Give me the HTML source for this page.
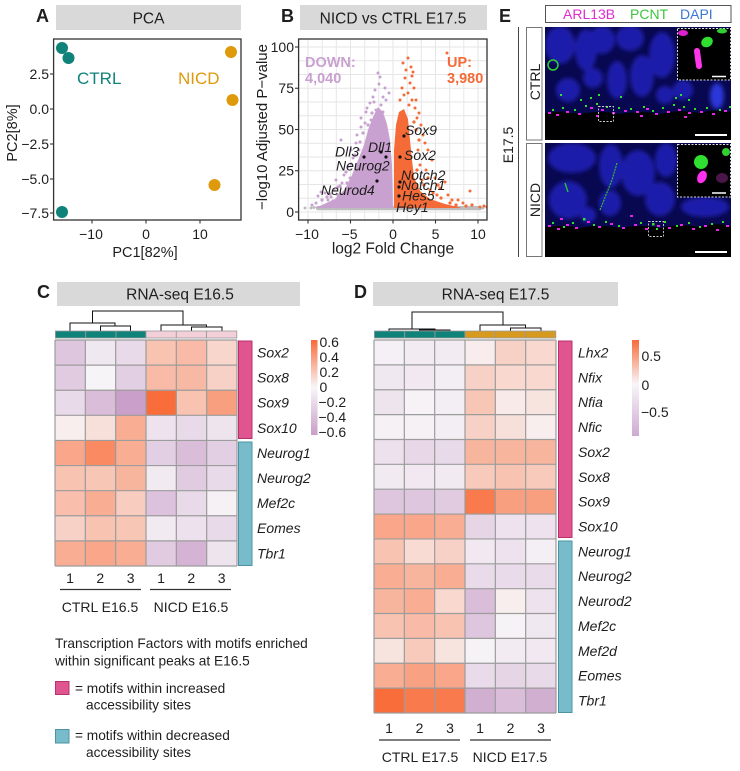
<!DOCTYPE html>
<html><head><meta charset="utf-8"><style>
html,body{margin:0;padding:0;background:#fff;}
svg{display:block;}
text{font-family:"Liberation Sans",Arial,sans-serif;fill:#1e1e1e;}
.o{fill:#f9652f}.p{fill:#c497c4}
.it{font-style:italic;font-size:14px}
.tk{font-size:14px}
.b{font-weight:bold}
</style></head><body>
<svg width="740" height="771" viewBox="0 0 740 771" xmlns="http://www.w3.org/2000/svg">
<defs>
<filter id="bl" x="-20%" y="-20%" width="140%" height="140%"><feGaussianBlur stdDeviation="2.2"/></filter>
<linearGradient id="gC" x1="0" y1="0" x2="0" y2="1"><stop offset="0" stop-color="#f86a38"/><stop offset=".5" stop-color="#f8f6f8"/><stop offset="1" stop-color="#c89ec9"/></linearGradient>
<linearGradient id="gD" x1="0" y1="0" x2="0" y2="1"><stop offset="0" stop-color="#f76b3a"/><stop offset=".46" stop-color="#f8f6f8"/><stop offset="1" stop-color="#cfaad2"/></linearGradient>
<clipPath id="cB"><rect x="299" y="39" width="188" height="181"/></clipPath>
<clipPath id="cE1"><rect x="545" y="27" width="186" height="113"/></clipPath>
<clipPath id="cE2"><rect x="545" y="143" width="186" height="114"/></clipPath>
</defs>
<rect width="740" height="771" fill="#fff"/>

<!-- ============ PANEL A ============ -->
<text x="36" y="22" class="b" font-size="18">A</text>
<rect x="56" y="5" width="185" height="25" fill="#d9d9d9"/>
<text x="148.5" y="23.5" font-size="15.5" text-anchor="middle">PCA</text>
<rect x="53.6" y="39" width="187.4" height="181" fill="none" stroke="#333" stroke-width="1.3"/>
<g stroke="#333" stroke-width="1.1">
<line x1="50" y1="74" x2="53.6" y2="74"/><line x1="50" y1="109" x2="53.6" y2="109"/><line x1="50" y1="144" x2="53.6" y2="144"/><line x1="50" y1="179" x2="53.6" y2="179"/><line x1="50" y1="213" x2="53.6" y2="213"/>
<line x1="92" y1="220" x2="92" y2="223.5"/><line x1="146" y1="220" x2="146" y2="223.5"/><line x1="200" y1="220" x2="200" y2="223.5"/>
</g>
<g class="tk" text-anchor="end">
<text x="49" y="79">2.5</text><text x="49" y="114">0.0</text><text x="49" y="149">−2.5</text><text x="49" y="184">−5.0</text><text x="49" y="218">−7.5</text>
</g>
<g class="tk" text-anchor="middle">
<text x="91" y="239">−10</text><text x="146" y="239">0</text><text x="200" y="239">10</text>
</g>
<text x="145" y="257" font-size="14.5" text-anchor="middle">PC1[82%]</text>
<text x="17" y="133" font-size="14.5" text-anchor="middle" transform="rotate(-90 17 133)">PC2[8%]</text>
<g fill="#0f8279"><circle cx="62" cy="48" r="6"/><circle cx="68.5" cy="58" r="6"/><circle cx="62" cy="212" r="6"/></g>
<g fill="#df9a0c"><circle cx="231" cy="52" r="6"/><circle cx="232.5" cy="100" r="6"/><circle cx="214.5" cy="185" r="6"/></g>
<text x="77" y="84" font-size="17" style="fill:#0f8279">CTRL</text>
<text x="178" y="84" font-size="17" style="fill:#df9a0c">NICD</text>

<!-- ============ PANEL B ============ -->
<text x="281" y="22" class="b" font-size="18">B</text>
<rect x="300" y="5" width="187" height="25" fill="#d9d9d9"/>
<text x="393" y="23.5" font-size="15.5" text-anchor="middle">NICD vs CTRL E17.5</text>
<g clip-path="url(#cB)">
<g stroke="#e6e6e6" stroke-width="1">
<line x1="299" y1="212" x2="487" y2="212"/><line x1="299" y1="198.25" x2="487" y2="198.25"/><line x1="299" y1="184.5" x2="487" y2="184.5"/><line x1="299" y1="170.75" x2="487" y2="170.75"/><line x1="299" y1="157" x2="487" y2="157"/><line x1="299" y1="143.25" x2="487" y2="143.25"/><line x1="299" y1="129.5" x2="487" y2="129.5"/><line x1="299" y1="115.75" x2="487" y2="115.75"/><line x1="299" y1="102" x2="487" y2="102"/><line x1="299" y1="88.25" x2="487" y2="88.25"/><line x1="299" y1="74.5" x2="487" y2="74.5"/><line x1="299" y1="60.75" x2="487" y2="60.75"/><line x1="299" y1="47" x2="487" y2="47"/>
<line x1="308" y1="39" x2="308" y2="220"/><line x1="322.2" y1="39" x2="322.2" y2="220"/><line x1="336.3" y1="39" x2="336.3" y2="220"/><line x1="350.5" y1="39" x2="350.5" y2="220"/><line x1="364.7" y1="39" x2="364.7" y2="220"/><line x1="378.8" y1="39" x2="378.8" y2="220"/><line x1="393" y1="39" x2="393" y2="220"/><line x1="407.2" y1="39" x2="407.2" y2="220"/><line x1="421.3" y1="39" x2="421.3" y2="220"/><line x1="435.5" y1="39" x2="435.5" y2="220"/><line x1="449.7" y1="39" x2="449.7" y2="220"/><line x1="463.8" y1="39" x2="463.8" y2="220"/><line x1="478" y1="39" x2="478" y2="220"/>
</g>
<!-- gray band -->
<rect x="316" y="206" width="166" height="4.2" rx="2" fill="#bdbdbd"/>
<g fill="#bdbdbd"><circle cx="305" cy="208" r="1.5"/><circle cx="311" cy="208" r="1.5"/><circle cx="468" cy="208" r="1.5"/><circle cx="474" cy="207.5" r="1.5"/><circle cx="483" cy="208" r="1.5"/><circle cx="314" cy="207.5" r="1.5"/></g>
<!-- purple cloud -->
<polygon fill="#c9a1d0" points="393,208 392,165 390,140 387,124 383,112 378,107 373,117 368,130 364,145 358,160 352,175 345,189 335,199 322,205 314,208"/>
<g fill="#c9a1d0">
<circle cx="378" cy="73" r="1.5"/><circle cx="380" cy="77" r="1.5"/><circle cx="375" cy="90" r="1.5"/><circle cx="383" cy="97" r="1.5"/><circle cx="373" cy="97" r="1.5"/><circle cx="370" cy="103" r="1.5"/><circle cx="381" cy="105" r="1.5"/><circle cx="376" cy="110" r="1.5"/><circle cx="383" cy="112" r="1.5"/><circle cx="361" cy="118" r="1.5"/><circle cx="365" cy="123" r="1.5"/><circle cx="361" cy="127" r="1.5"/><circle cx="341" cy="140" r="1.5"/><circle cx="356" cy="143" r="1.5"/><circle cx="351" cy="150" r="1.5"/><circle cx="348" cy="167" r="1.5"/><circle cx="345" cy="197" r="1.5"/><circle cx="338" cy="187" r="1.5"/><circle cx="321" cy="192" r="1.5"/><circle cx="325" cy="193" r="1.5"/><circle cx="331" cy="197" r="1.5"/><circle cx="334" cy="190" r="1.5"/><circle cx="342" cy="183" r="1.5"/><circle cx="350" cy="178" r="1.5"/><circle cx="357" cy="135" r="1.5"/><circle cx="366" cy="112" r="1.5"/><circle cx="371" cy="120" r="1.5"/><circle cx="385" cy="88" r="1.5"/><circle cx="379" cy="84" r="1.5"/><circle cx="368" cy="138" r="1.5"/><circle cx="344" cy="175" r="1.5"/><circle cx="328" cy="200" r="1.5"/><circle cx="316" cy="203" r="1.5"/><circle cx="312" cy="205" r="1.5"/><circle cx="386" cy="100" r="1.5"/><circle cx="389" cy="93" r="1.5"/><circle cx="374" cy="102" r="1.5"/><circle cx="353" cy="158" r="1.5"/><circle cx="359" cy="150" r="1.5"/><circle cx="367" cy="108" r="1.5"/><circle cx="318" cy="196" r="1.5"/><circle cx="336" cy="180" r="1.5"/>
<circle cx="330" cy="194" r="1.6"/><circle cx="327" cy="197" r="1.6"/><circle cx="340" cy="186" r="1.6"/><circle cx="346" cy="172" r="1.6"/><circle cx="351" cy="164" r="1.6"/><circle cx="355" cy="155" r="1.6"/><circle cx="360" cy="142" r="1.6"/><circle cx="363" cy="133" r="1.6"/><circle cx="368" cy="125" r="1.6"/><circle cx="372" cy="113" r="1.6"/><circle cx="338" cy="195" r="1.6"/><circle cx="333" cy="201" r="1.6"/><circle cx="322" cy="200" r="1.6"/><circle cx="347" cy="183" r="1.6"/>
</g>
<!-- orange cloud -->
<polygon fill="#f46b37" points="394,208 394,150 396,125 399,112 404,109 408,119 410,140 412,160 414,177 420,191 430,199 445,204 462,208"/>
<g fill="#f46b37">
<circle cx="403" cy="63" r="1.5"/><circle cx="408" cy="58" r="1.5"/><circle cx="411" cy="67" r="1.5"/><circle cx="413" cy="72" r="1.5"/><circle cx="405" cy="78" r="1.5"/><circle cx="410" cy="83" r="1.5"/><circle cx="414" cy="88" r="1.5"/><circle cx="408" cy="93" r="1.5"/><circle cx="402" cy="88" r="1.5"/><circle cx="416" cy="100" r="1.5"/><circle cx="400" cy="100" r="1.5"/><circle cx="419" cy="113" r="1.5"/><circle cx="415" cy="108" r="1.5"/><circle cx="421" cy="125" r="1.5"/><circle cx="425" cy="143" r="1.5"/><circle cx="432" cy="160" r="1.5"/><circle cx="440" cy="188" r="1.5"/><circle cx="448" cy="195" r="1.5"/><circle cx="452" cy="200" r="1.5"/><circle cx="470" cy="191" r="1.5"/><circle cx="480" cy="207" r="1.5"/><circle cx="484" cy="206" r="1.5"/><circle cx="487" cy="207" r="1.5"/><circle cx="418" cy="150" r="1.5"/><circle cx="420" cy="165" r="1.5"/><circle cx="406" cy="70" r="1.5"/><circle cx="412" cy="76" r="1.5"/><circle cx="404" cy="95" r="1.5"/><circle cx="417" cy="118" r="1.5"/><circle cx="423" cy="135" r="1.5"/><circle cx="428" cy="150" r="1.5"/><circle cx="426" cy="170" r="1.5"/><circle cx="435" cy="178" r="1.5"/><circle cx="445" cy="182" r="1.5"/><circle cx="458" cy="200" r="1.5"/><circle cx="463" cy="203" r="1.5"/><circle cx="412" cy="100" r="1.5"/><circle cx="409" cy="105" r="1.5"/><circle cx="399" cy="118" r="1.5"/><circle cx="422" cy="180" r="1.5"/><circle cx="430" cy="190" r="1.5"/><circle cx="437" cy="195" r="1.5"/><circle cx="447" cy="53" r="1.5"/>
<circle cx="424" cy="185" r="1.6"/><circle cx="433" cy="193" r="1.6"/><circle cx="441" cy="198" r="1.6"/><circle cx="450" cy="203" r="1.6"/><circle cx="456" cy="205" r="1.6"/><circle cx="466" cy="206" r="1.6"/><circle cx="472" cy="205" r="1.6"/><circle cx="428" cy="178" r="1.6"/><circle cx="438" cy="185" r="1.6"/><circle cx="416" cy="130" r="1.6"/><circle cx="419" cy="140" r="1.6"/><circle cx="414" cy="122" r="1.6"/><circle cx="417" cy="170" r="1.6"/>
</g>
<!-- highlighted genes -->
<g fill="#111"><circle cx="404" cy="136" r="1.6"/><circle cx="381" cy="152" r="1.6"/><circle cx="364" cy="157" r="1.6"/><circle cx="386" cy="157" r="1.6"/><circle cx="400" cy="157" r="1.6"/><circle cx="400" cy="182" r="1.6"/><circle cx="399" cy="187" r="1.6"/><circle cx="399" cy="196" r="1.6"/><circle cx="377" cy="181" r="1.6"/></g>
<g class="it">
<text x="405" y="135">Sox9</text>
<text x="368" y="152">Dll1</text>
<text x="335" y="156.5">Dll3</text>
<text x="336" y="170.5">Neurog2</text>
<text x="404" y="160">Sox2</text>
<text x="401" y="180">Notch2</text>
<text x="401" y="190">Notch1</text>
<text x="402" y="200.5">Hes5</text>
<text x="396" y="212">Hey1</text>
<text x="321" y="195">Neurod4</text>
</g>
<g class="b" font-size="14.5">
<text x="305" y="67" style="fill:#c9a1d0">DOWN:</text>
<text x="305" y="83" style="fill:#c9a1d0">4,040</text>
<text x="447" y="67" style="fill:#f46b37">UP:</text>
<text x="447" y="83" style="fill:#f46b37">3,980</text>
</g>
</g>
<rect x="298.6" y="39" width="188.4" height="181" fill="none" stroke="#333" stroke-width="1.3"/>
<g stroke="#333" stroke-width="1.1">
<line x1="295" y1="47" x2="298.6" y2="47"/><line x1="295" y1="88.25" x2="298.6" y2="88.25"/><line x1="295" y1="129.5" x2="298.6" y2="129.5"/><line x1="295" y1="170.75" x2="298.6" y2="170.75"/><line x1="295" y1="212" x2="298.6" y2="212"/>
<line x1="308" y1="220" x2="308" y2="223.5"/><line x1="350.5" y1="220" x2="350.5" y2="223.5"/><line x1="393" y1="220" x2="393" y2="223.5"/><line x1="435.5" y1="220" x2="435.5" y2="223.5"/><line x1="478" y1="220" x2="478" y2="223.5"/>
</g>
<g class="tk" text-anchor="end">
<text x="294" y="52">100</text><text x="294" y="93">75</text><text x="294" y="134.5">50</text><text x="294" y="175.5">25</text><text x="294" y="217">0</text>
</g>
<g class="tk" text-anchor="middle">
<text x="307" y="239">−10</text><text x="349.5" y="239">−5</text><text x="393" y="239">0</text><text x="435.5" y="239">5</text><text x="478" y="239">10</text>
</g>
<text x="393" y="253.5" font-size="15.5" text-anchor="middle">log2 Fold Change</text>
<text x="267" y="127" font-size="15" text-anchor="middle" transform="rotate(-90 267 127)">−log10 Adjusted P−value</text>

<!-- ============ PANEL E ============ -->
<text x="499" y="22" class="b" font-size="18">E</text>
<rect x="545.5" y="5.5" width="185.5" height="17" fill="#fff" stroke="#555" stroke-width="1"/>
<text x="563" y="19" font-size="14" style="fill:#e22ad2">ARL13B</text>
<text x="630" y="19" font-size="14" style="fill:#3cc63c">PCNT</text>
<text x="680" y="19" font-size="14" style="fill:#3a78d4">DAPI</text>
<line x1="518.5" y1="27" x2="518.5" y2="257" stroke="#444" stroke-width="1"/>
<text x="513" y="145" font-size="14" text-anchor="middle" transform="rotate(-90 513 145)">E17.5</text>
<rect x="526.5" y="27.5" width="15.5" height="112.5" fill="#fff" stroke="#777"/>
<text x="540" y="82" font-size="14" text-anchor="middle" transform="rotate(-90 540 82)">CTRL</text>
<rect x="526.5" y="143.5" width="15.5" height="113" fill="#fff" stroke="#777"/>
<text x="540" y="200" font-size="14" text-anchor="middle" transform="rotate(-90 540 200)">NICD</text>

<!-- CTRL image -->
<g clip-path="url(#cE1)">
<rect x="545" y="27" width="186" height="113" fill="#000"/>
<path d="M545,27 H731 V112 Q715,108 700,113 Q680,109 660,114 Q640,110 620,114 Q600,110 580,114 Q560,110 545,113 Z" fill="#080850"/>
<g filter="url(#bl)" fill="#1e1eaa">
<ellipse cx="560" cy="45" rx="15" ry="19"/><ellipse cx="586" cy="50" rx="11" ry="21"/><ellipse cx="602" cy="40" rx="13" ry="14"/><ellipse cx="630" cy="38" rx="14" ry="13"/><ellipse cx="642" cy="76" rx="12" ry="21"/><ellipse cx="617" cy="80" rx="10" ry="19"/><ellipse cx="662" cy="55" rx="13" ry="23"/><ellipse cx="568" cy="90" rx="12" ry="12"/><ellipse cx="683" cy="90" rx="10" ry="10"/><ellipse cx="593" cy="78" rx="10" ry="10"/><ellipse cx="690" cy="45" rx="10" ry="14"/><ellipse cx="665" cy="95" rx="9" ry="9"/>
</g>
<ellipse cx="717" cy="96" rx="7" ry="13" fill="#2a38d8" filter="url(#bl)"/>
<circle cx="553" cy="65" r="5" fill="none" stroke="#2fd02f" stroke-width="1.5"/>
<g fill="#e425e4">
<rect x="548" y="112" width="3" height="2"/><rect x="556" y="114" width="3" height="2"/><rect x="566" y="111" width="3" height="2"/><rect x="578" y="113" width="3" height="2"/><rect x="590" y="107" width="3" height="2"/><rect x="601" y="109" width="3" height="2"/><rect x="612" y="112" width="3" height="2"/><rect x="624" y="110" width="3" height="2"/><rect x="636" y="111" width="3" height="2"/><rect x="646" y="108" width="3" height="2"/><rect x="655" y="113" width="3" height="2"/><rect x="667" y="111" width="3" height="2"/><rect x="678" y="109" width="3" height="2"/><rect x="688" y="112" width="3" height="2"/><rect x="700" y="111" width="3" height="2"/><rect x="712" y="113" width="3" height="2"/><rect x="724" y="110" width="3" height="2"/><rect x="596" y="115" width="3" height="2"/><rect x="640" y="115" width="3" height="2"/><rect x="684" y="116" width="3" height="2"/>
</g>
<g fill="#2fe02f">
<rect x="552" y="109" width="2" height="2"/><rect x="562" y="107" width="2" height="2"/><rect x="574" y="109" width="2" height="2"/><rect x="585" y="105" width="2" height="2"/><rect x="596" y="103" width="2" height="2"/><rect x="606" y="106" width="2" height="2"/><rect x="618" y="107" width="2" height="2"/><rect x="630" y="108" width="2" height="2"/><rect x="643" y="106" width="2" height="2"/><rect x="652" y="110" width="2" height="2"/><rect x="662" y="107" width="2" height="2"/><rect x="673" y="104" width="2" height="2"/><rect x="683" y="106" width="2" height="2"/><rect x="694" y="108" width="2" height="2"/><rect x="706" y="107" width="2" height="2"/><rect x="719" y="109" width="2" height="2"/><rect x="729" y="106" width="2" height="2"/><rect x="590" y="97" width="2" height="2"/><rect x="598" y="94" width="2" height="2"/><rect x="580" y="99" width="2" height="2"/><rect x="675" y="97" width="2" height="2"/><rect x="680" y="94" width="2" height="2"/><rect x="688" y="99" width="2" height="2"/><rect x="560" y="94" width="2" height="2"/><rect x="620" y="96" width="2" height="2"/>
</g>
<rect x="598.5" y="106.5" width="15" height="15" fill="none" stroke="#ccc" stroke-width="0.9" stroke-dasharray="2 1.5"/>
<line x1="695" y1="135" x2="727" y2="135" stroke="#fff" stroke-width="2"/>
</g>
<rect x="677.5" y="28.5" width="53" height="51.5" fill="#000" stroke="#ddd" stroke-width="1" stroke-dasharray="2 1.5"/>
<ellipse cx="683" cy="33" rx="5" ry="3" fill="#e020d0"/>
<line x1="697" y1="51" x2="699" y2="66" stroke="#ff36ec" stroke-width="6" stroke-linecap="round"/>
<ellipse cx="707" cy="42" rx="6" ry="5" fill="#30e030" transform="rotate(-30 707 42)"/>
<ellipse cx="722" cy="31" rx="5" ry="2.5" fill="#30d030"/>
<line x1="712" y1="76.5" x2="726" y2="76.5" stroke="#fff" stroke-width="1.5"/>

<!-- NICD image -->
<g clip-path="url(#cE2)">
<rect x="545" y="143" width="186" height="114" fill="#000"/>
<path d="M545,143 H731 V226 Q715,222 700,227 Q680,223 660,228 Q640,224 620,228 Q600,224 580,228 Q560,224 545,227 Z" fill="#080850"/>
<g filter="url(#bl)" fill="#1e1eaa">
<ellipse cx="572" cy="158" rx="24" ry="15"/><ellipse cx="568" cy="200" rx="19" ry="19"/><ellipse cx="611" cy="166" rx="12" ry="22"/><ellipse cx="638" cy="173" rx="17" ry="23"/><ellipse cx="660" cy="199" rx="15" ry="17"/><ellipse cx="610" cy="203" rx="11" ry="13"/><ellipse cx="705" cy="207" rx="24" ry="10"/><ellipse cx="666" cy="160" rx="11" ry="17"/><ellipse cx="588" cy="215" rx="8" ry="8"/>
</g>
<path d="M617,163 L612,180 L606,195 L600,210" stroke="#2fc02f" stroke-width="1.2" fill="none" stroke-dasharray="2 1"/>
<line x1="565" y1="183" x2="568" y2="192" stroke="#2fc02f" stroke-width="1.4"/>
<g fill="#e425e4">
<rect x="548" y="225" width="3" height="2"/><rect x="557" y="228" width="3" height="2"/><rect x="566" y="224" width="3" height="2"/><rect x="575" y="227" width="3" height="2"/><rect x="587" y="221" width="3" height="2"/><rect x="598" y="226" width="3" height="2"/><rect x="610" y="223" width="3" height="2"/><rect x="622" y="227" width="3" height="2"/><rect x="634" y="224" width="3" height="2"/><rect x="645" y="228" width="3" height="2"/><rect x="657" y="225" width="3" height="2"/><rect x="668" y="227" width="3" height="2"/><rect x="680" y="224" width="3" height="2"/><rect x="692" y="228" width="3" height="2"/><rect x="704" y="225" width="3" height="2"/><rect x="716" y="229" width="3" height="2"/><rect x="726" y="225" width="3" height="2"/><rect x="560" y="218" width="3" height="2"/><rect x="630" y="215" width="3" height="2"/>
</g>
<g fill="#2fe02f">
<rect x="552" y="222" width="2" height="2"/><rect x="563" y="226" width="2" height="2"/><rect x="572" y="222" width="2" height="2"/><rect x="583" y="218" width="2.5" height="2.5"/><rect x="593" y="224" width="2" height="2"/><rect x="605" y="221" width="2" height="2"/><rect x="618" y="225" width="2" height="2"/><rect x="640" y="222" width="2" height="2"/><rect x="652" y="223" width="2.5" height="2.5"/><rect x="664" y="221" width="2" height="2"/><rect x="676" y="225" width="2" height="2"/><rect x="688" y="222" width="2" height="2"/><rect x="699" y="226" width="2" height="2"/><rect x="711" y="223" width="2" height="2"/><rect x="722" y="221" width="2" height="2"/><rect x="656" y="228" width="2" height="2"/>
</g>
<rect x="648.5" y="221.5" width="15" height="15" fill="none" stroke="#ccc" stroke-width="0.9" stroke-dasharray="2 1.5"/>
<line x1="695" y1="252" x2="727" y2="252" stroke="#fff" stroke-width="2"/>
</g>
<rect x="677.5" y="144.5" width="53" height="52.5" fill="#000" stroke="#ddd" stroke-width="1" stroke-dasharray="2 1.5"/>
<circle cx="701" cy="162" r="7" fill="#30e030"/>
<ellipse cx="702" cy="177" rx="4.5" ry="6.5" fill="#ff30f0" transform="rotate(25 702 177)"/>
<circle cx="726" cy="152" r="4" fill="#30d030"/>
<ellipse cx="722" cy="178" rx="6" ry="5" fill="#6a1f6a" opacity=".7"/>
<line x1="712" y1="193" x2="726" y2="193" stroke="#fff" stroke-width="1.5"/>

<!-- ============ PANEL C ============ -->
<text x="37" y="298" class="b" font-size="18">C</text>
<rect x="57" y="282" width="243" height="24" fill="#d9d9d9"/>
<text x="180" y="299.5" font-size="15.5" text-anchor="middle">RNA-seq E16.5</text>
<g stroke="#111" stroke-width="1" fill="none">
<path d="M92.5,323 V311 H183 V325"/>
<path d="M70,331 V323 H115 V326"/>
<path d="M100.5,331 V326 H130.5 V331"/>
<path d="M161,331 V325 H206.5 V327"/>
<path d="M191.5,331 V327 H222 V331"/>
</g>
<g stroke="#999" stroke-width=".8">
<rect x="55.4" y="331" width="30.3" height="7" fill="#0f837a"/><rect x="85.7" y="331" width="30.3" height="7" fill="#0f837a"/><rect x="116" y="331" width="30" height="7" fill="#0f837a"/>
<rect x="146" y="331" width="30.3" height="7" fill="#f2cfd9"/><rect x="176.3" y="331" width="30.3" height="7" fill="#f2cfd9"/><rect x="206.6" y="331" width="30.2" height="7" fill="#f2cfd9"/>
</g>
<rect x="55" y="340" width="182" height="226" fill="#f8f6f8"/>
<g>
<rect class="p" x="55" y="340" width="30.4" height="25.2" fill-opacity=".5"/><rect class="p" x="85.33" y="340" width="30.4" height="25.2" fill-opacity=".15"/><rect class="p" x="115.67" y="340" width="30.4" height="25.2" fill-opacity=".3"/><rect class="o" x="146" y="340" width="30.4" height="25.2" fill-opacity=".35"/><rect class="o" x="176.33" y="340" width="30.4" height="25.2" fill-opacity=".4"/><rect class="o" x="206.67" y="340" width="30.4" height="25.2" fill-opacity=".22"/>
<rect class="p" x="55" y="365.11" width="30.4" height="25.2" fill-opacity=".45"/><rect class="p" x="85.33" y="365.11" width="30.4" height="25.2" fill-opacity=".02"/><rect class="p" x="115.67" y="365.11" width="30.4" height="25.2" fill-opacity=".4"/><rect class="o" x="146" y="365.11" width="30.4" height="25.2" fill-opacity=".4"/><rect class="o" x="176.33" y="365.11" width="30.4" height="25.2" fill-opacity=".42"/><rect class="o" x="206.67" y="365.11" width="30.4" height="25.2" fill-opacity=".25"/>
<rect class="p" x="55" y="390.22" width="30.4" height="25.2" fill-opacity=".3"/><rect class="p" x="85.33" y="390.22" width="30.4" height="25.2" fill-opacity=".6"/><rect class="p" x="115.67" y="390.22" width="30.4" height="25.2" fill-opacity=".9"/><rect class="o" x="146" y="390.22" width="30.4" height="25.2" fill-opacity=".95"/><rect class="o" x="176.33" y="390.22" width="30.4" height="25.2" fill-opacity=".35"/><rect class="o" x="206.67" y="390.22" width="30.4" height="25.2" fill-opacity=".6"/>
<rect class="o" x="55" y="415.33" width="30.4" height="25.2" fill-opacity=".05"/><rect class="o" x="85.33" y="415.33" width="30.4" height="25.2" fill-opacity=".15"/><rect class="o" x="115.67" y="415.33" width="30.4" height="25.2" fill-opacity=".5"/><rect class="p" x="146" y="415.33" width="30.4" height="25.2" fill-opacity=".2"/><rect class="p" x="176.33" y="415.33" width="30.4" height="25.2" fill-opacity=".3"/><rect class="p" x="206.67" y="415.33" width="30.4" height="25.2" fill-opacity=".18"/>
<rect class="o" x="55" y="440.44" width="30.4" height="25.2" fill-opacity=".55"/><rect class="o" x="85.33" y="440.44" width="30.4" height="25.2" fill-opacity=".75"/><rect class="o" x="115.67" y="440.44" width="30.4" height="25.2" fill-opacity=".5"/><rect class="p" x="146" y="440.44" width="30.4" height="25.2" fill-opacity=".4"/><rect class="p" x="176.33" y="440.44" width="30.4" height="25.2" fill-opacity=".6"/><rect class="p" x="206.67" y="440.44" width="30.4" height="25.2" fill-opacity=".4"/>
<rect class="o" x="55" y="465.56" width="30.4" height="25.2" fill-opacity=".35"/><rect class="o" x="85.33" y="465.56" width="30.4" height="25.2" fill-opacity=".33"/><rect class="o" x="115.67" y="465.56" width="30.4" height="25.2" fill-opacity=".45"/><rect class="p" x="146" y="465.56" width="30.4" height="25.2" fill-opacity=".12"/><rect class="p" x="176.33" y="465.56" width="30.4" height="25.2" fill-opacity=".45"/><rect class="p" x="206.67" y="465.56" width="30.4" height="25.2" fill-opacity=".3"/>
<rect class="o" x="55" y="490.67" width="30.4" height="25.2" fill-opacity=".38"/><rect class="o" x="85.33" y="490.67" width="30.4" height="25.2" fill-opacity=".5"/><rect class="o" x="115.67" y="490.67" width="30.4" height="25.2" fill-opacity=".28"/><rect class="p" x="146" y="490.67" width="30.4" height="25.2" fill-opacity=".55"/><rect class="p" x="176.33" y="490.67" width="30.4" height="25.2" fill-opacity=".3"/><rect class="p" x="206.67" y="490.67" width="30.4" height="25.2" fill-opacity=".05"/>
<rect class="o" x="55" y="515.78" width="30.4" height="25.2" fill-opacity=".25"/><rect class="o" x="85.33" y="515.78" width="30.4" height="25.2" fill-opacity=".35"/><rect class="o" x="115.67" y="515.78" width="30.4" height="25.2" fill-opacity=".33"/><rect class="p" x="146" y="515.78" width="30.4" height="25.2" fill-opacity=".12"/><rect class="p" x="176.33" y="515.78" width="30.4" height="25.2" fill-opacity=".22"/><rect class="p" x="206.67" y="515.78" width="30.4" height="25.2" fill-opacity=".3"/>
<rect class="o" x="55" y="540.89" width="30.4" height="25.11" fill-opacity=".5"/><rect class="o" x="85.33" y="540.89" width="30.4" height="25.11" fill-opacity=".55"/><rect class="o" x="115.67" y="540.89" width="30.4" height="25.11" fill-opacity=".5"/><rect class="p" x="146" y="540.89" width="30.4" height="25.11" fill-opacity=".45"/><rect class="p" x="176.33" y="540.89" width="30.4" height="25.11" fill-opacity=".7"/><rect class="p" x="206.67" y="540.89" width="30.33" height="25.11" fill-opacity=".18"/>
</g>
<path stroke="#9c9c9c" stroke-width="1.2" fill="none" d="M55,340V566M85.33,340V566M115.67,340V566M146,340V566M176.33,340V566M206.67,340V566M237,340V566M55,340H237M55,365.11H237M55,390.22H237M55,415.33H237M55,440.44H237M55,465.56H237M55,490.67H237M55,515.78H237M55,540.89H237M55,566H237"/>
<rect x="238.5" y="341" width="13.5" height="97.5" fill="#e0558f" stroke="#b8316c" stroke-width="1"/>
<rect x="238.5" y="442" width="13.5" height="123.5" fill="#78bccb" stroke="#4b93a3" stroke-width="1"/>
<g class="it">
<text x="257" y="357.5">Sox2</text><text x="257" y="382.6">Sox8</text><text x="257" y="407.7">Sox9</text><text x="257" y="432.8">Sox10</text><text x="257" y="457.9">Neurog1</text><text x="257" y="483">Neurog2</text><text x="257" y="508.1">Mef2c</text><text x="257" y="533.2">Eomes</text><text x="257" y="558.3">Tbr1</text>
</g>
<rect x="311" y="340" width="6.5" height="95" fill="url(#gC)"/>
<g class="tk">
<text x="319.5" y="347">0.6</text><text x="319.5" y="362">0.4</text><text x="319.5" y="377">0.2</text><text x="319.5" y="392">0</text><text x="318.5" y="407">−0.2</text><text x="318.5" y="422">−0.4</text><text x="318.5" y="437">−0.6</text>
</g>
<g class="tk" text-anchor="middle">
<text x="70" y="583">1</text><text x="100.3" y="583">2</text><text x="130.7" y="583">3</text><text x="161" y="583">1</text><text x="191.3" y="583">2</text><text x="221.7" y="583">3</text>
</g>
<g stroke="#333" stroke-width="1.3"><line x1="60" y1="589.5" x2="141" y2="589.5"/><line x1="150" y1="589.5" x2="231" y2="589.5"/></g>
<g class="tk" text-anchor="middle"><text x="100" y="612">CTRL E16.5</text><text x="191" y="612">NICD E16.5</text></g>
<g font-size="13.7">
<text x="55" y="648">Transcription Factors with motifs enriched</text>
<text x="55" y="665.5">within significant peaks at E16.5</text>
<text x="75" y="693">= motifs within increased</text>
<text x="86" y="709.5">accessibility sites</text>
<text x="75" y="740">= motifs within decreased</text>
<text x="86" y="757">accessibility sites</text>
</g>
<rect x="55.5" y="681.5" width="13.5" height="13" fill="#e0558f" stroke="#b8316c"/>
<rect x="55.5" y="729.5" width="13.5" height="13.5" fill="#78bccb" stroke="#4b93a3"/>

<!-- ============ PANEL D ============ -->
<text x="354" y="298" class="b" font-size="18">D</text>
<rect x="373" y="282" width="245" height="24" fill="#d9d9d9"/>
<text x="495.5" y="299.5" font-size="15.5" text-anchor="middle">RNA-seq E17.5</text>
<g stroke="#111" stroke-width="1" fill="none">
<path d="M412,329 V312 H503 V325"/>
<path d="M389,331 V329 H435 V330"/>
<path d="M419.5,331 V330 H450 V331"/>
<path d="M480,331 V325 H525.5 V328"/>
<path d="M510.5,331 V328 H541 V331"/>
</g>
<g stroke="#999" stroke-width=".8">
<rect x="374.4" y="331" width="30.3" height="7" fill="#0f837a"/><rect x="404.7" y="331" width="30.3" height="7" fill="#0f837a"/><rect x="435" y="331" width="30" height="7" fill="#0f837a"/>
<rect x="465" y="331" width="30.3" height="7" fill="#d89a1e"/><rect x="495.3" y="331" width="30.3" height="7" fill="#d89a1e"/><rect x="525.6" y="331" width="30.2" height="7" fill="#d89a1e"/>
</g>
<rect x="374" y="340" width="182" height="373" fill="#f8f6f8"/>
<g>
<rect class="p" x="374" y="340" width="30.4" height="24.9" fill-opacity=".06"/><rect class="p" x="404.33" y="340" width="30.4" height="24.9" fill-opacity=".1"/><rect class="p" x="434.67" y="340" width="30.4" height="24.9" fill-opacity=".1"/><rect class="o" x="465" y="340" width="30.4" height="24.9" fill-opacity=".06"/><rect class="o" x="495.33" y="340" width="30.4" height="24.9" fill-opacity=".25"/><rect class="o" x="525.67" y="340" width="30.4" height="24.9" fill-opacity=".2"/>
<rect class="p" x="374" y="364.87" width="30.4" height="24.9" fill-opacity=".15"/><rect class="p" x="404.33" y="364.87" width="30.4" height="24.9" fill-opacity=".14"/><rect class="p" x="434.67" y="364.87" width="30.4" height="24.9" fill-opacity=".08"/><rect class="o" x="465" y="364.87" width="30.4" height="24.9" fill-opacity=".25"/><rect class="o" x="495.33" y="364.87" width="30.4" height="24.9" fill-opacity=".2"/><rect class="o" x="525.67" y="364.87" width="30.4" height="24.9" fill-opacity=".2"/>
<rect class="p" x="374" y="389.73" width="30.4" height="24.9" fill-opacity=".18"/><rect class="p" x="404.33" y="389.73" width="30.4" height="24.9" fill-opacity=".04"/><rect class="p" x="434.67" y="389.73" width="30.4" height="24.9" fill-opacity=".08"/><rect class="o" x="465" y="389.73" width="30.4" height="24.9" fill-opacity=".33"/><rect class="o" x="495.33" y="389.73" width="30.4" height="24.9" fill-opacity=".08"/><rect class="o" x="525.67" y="389.73" width="30.4" height="24.9" fill-opacity=".12"/>
<rect class="p" x="374" y="414.6" width="30.4" height="24.9" fill-opacity=".05"/><rect class="p" x="404.33" y="414.6" width="30.4" height="24.9" fill-opacity=".05"/><rect class="p" x="434.67" y="414.6" width="30.4" height="24.9" fill-opacity=".08"/><rect class="o" x="465" y="414.6" width="30.4" height="24.9" fill-opacity=".25"/><rect class="o" x="495.33" y="414.6" width="30.4" height="24.9" fill-opacity=".15"/><rect class="o" x="525.67" y="414.6" width="30.4" height="24.9" fill-opacity=".05"/>
<rect class="p" x="374" y="439.47" width="30.4" height="24.9" fill-opacity=".22"/><rect class="p" x="404.33" y="439.47" width="30.4" height="24.9" fill-opacity=".33"/><rect class="p" x="434.67" y="439.47" width="30.4" height="24.9" fill-opacity=".3"/><rect class="o" x="465" y="439.47" width="30.4" height="24.9" fill-opacity=".45"/><rect class="o" x="495.33" y="439.47" width="30.4" height="24.9" fill-opacity=".45"/><rect class="o" x="525.67" y="439.47" width="30.4" height="24.9" fill-opacity=".45"/>
<rect class="p" x="374" y="464.33" width="30.4" height="24.9" fill-opacity=".12"/><rect class="p" x="404.33" y="464.33" width="30.4" height="24.9" fill-opacity=".14"/><rect class="p" x="434.67" y="464.33" width="30.4" height="24.9" fill-opacity=".12"/><rect class="o" x="465" y="464.33" width="30.4" height="24.9" fill-opacity=".3"/><rect class="o" x="495.33" y="464.33" width="30.4" height="24.9" fill-opacity=".35"/><rect class="o" x="525.67" y="464.33" width="30.4" height="24.9" fill-opacity=".3"/>
<rect class="p" x="374" y="489.2" width="30.4" height="24.9" fill-opacity=".5"/><rect class="p" x="404.33" y="489.2" width="30.4" height="24.9" fill-opacity=".5"/><rect class="p" x="434.67" y="489.2" width="30.4" height="24.9" fill-opacity=".45"/><rect class="o" x="465" y="489.2" width="30.4" height="24.9" fill-opacity=".85"/><rect class="o" x="495.33" y="489.2" width="30.4" height="24.9" fill-opacity=".6"/><rect class="o" x="525.67" y="489.2" width="30.4" height="24.9" fill-opacity=".6"/>
<rect class="o" x="374" y="514.07" width="30.4" height="24.9" fill-opacity=".55"/><rect class="o" x="404.33" y="514.07" width="30.4" height="24.9" fill-opacity=".55"/><rect class="o" x="434.67" y="514.07" width="30.4" height="24.9" fill-opacity=".5"/><rect class="p" x="465" y="514.07" width="30.4" height="24.9" fill-opacity=".35"/><rect class="p" x="495.33" y="514.07" width="30.4" height="24.9" fill-opacity=".2"/><rect class="p" x="525.67" y="514.07" width="30.4" height="24.9" fill-opacity=".2"/>
<rect class="o" x="374" y="538.93" width="30.4" height="24.9" fill-opacity=".35"/><rect class="o" x="404.33" y="538.93" width="30.4" height="24.9" fill-opacity=".18"/><rect class="o" x="434.67" y="538.93" width="30.4" height="24.9" fill-opacity=".25"/><rect class="p" x="465" y="538.93" width="30.4" height="24.9" fill-opacity=".14"/><rect class="p" x="495.33" y="538.93" width="30.4" height="24.9" fill-opacity=".2"/><rect class="p" x="525.67" y="538.93" width="30.4" height="24.9" fill-opacity=".07"/>
<rect class="o" x="374" y="563.8" width="30.4" height="24.9" fill-opacity=".5"/><rect class="o" x="404.33" y="563.8" width="30.4" height="24.9" fill-opacity=".45"/><rect class="o" x="434.67" y="563.8" width="30.4" height="24.9" fill-opacity=".5"/><rect class="p" x="465" y="563.8" width="30.4" height="24.9" fill-opacity=".28"/><rect class="p" x="495.33" y="563.8" width="30.4" height="24.9" fill-opacity=".28"/><rect class="p" x="525.67" y="563.8" width="30.4" height="24.9" fill-opacity=".28"/>
<rect class="o" x="374" y="588.67" width="30.4" height="24.9" fill-opacity=".45"/><rect class="o" x="404.33" y="588.67" width="30.4" height="24.9" fill-opacity=".5"/><rect class="o" x="434.67" y="588.67" width="30.4" height="24.9" fill-opacity=".2"/><rect class="p" x="465" y="588.67" width="30.4" height="24.9" fill-opacity=".6"/><rect class="o" x="495.33" y="588.67" width="30.4" height="24.9" fill-opacity=".05"/><rect class="p" x="525.67" y="588.67" width="30.4" height="24.9" fill-opacity=".2"/>
<rect class="o" x="374" y="613.53" width="30.4" height="24.9" fill-opacity=".35"/><rect class="o" x="404.33" y="613.53" width="30.4" height="24.9" fill-opacity=".4"/><rect class="o" x="434.67" y="613.53" width="30.4" height="24.9" fill-opacity=".35"/><rect class="p" x="465" y="613.53" width="30.4" height="24.9" fill-opacity=".5"/><rect class="p" x="495.33" y="613.53" width="30.4" height="24.9" fill-opacity=".03"/><rect class="p" x="525.67" y="613.53" width="30.4" height="24.9" fill-opacity=".15"/>
<rect class="o" x="374" y="638.4" width="30.4" height="24.9" fill-opacity=".12"/><rect class="o" x="404.33" y="638.4" width="30.4" height="24.9" fill-opacity=".3"/><rect class="o" x="434.67" y="638.4" width="30.4" height="24.9" fill-opacity=".12"/><rect class="p" x="465" y="638.4" width="30.4" height="24.9" fill-opacity=".03"/><rect class="p" x="495.33" y="638.4" width="30.4" height="24.9" fill-opacity=".1"/><rect class="p" x="525.67" y="638.4" width="30.4" height="24.9" fill-opacity=".14"/>
<rect class="o" x="374" y="663.27" width="30.4" height="24.9" fill-opacity=".5"/><rect class="o" x="404.33" y="663.27" width="30.4" height="24.9" fill-opacity=".58"/><rect class="o" x="434.67" y="663.27" width="30.4" height="24.9" fill-opacity=".55"/><rect class="p" x="465" y="663.27" width="30.4" height="24.9" fill-opacity=".28"/><rect class="p" x="495.33" y="663.27" width="30.4" height="24.9" fill-opacity=".35"/><rect class="p" x="525.67" y="663.27" width="30.4" height="24.9" fill-opacity=".3"/>
<rect class="o" x="374" y="688.13" width="30.4" height="24.87" fill-opacity=".95"/><rect class="o" x="404.33" y="688.13" width="30.4" height="24.87" fill-opacity=".85"/><rect class="o" x="434.67" y="688.13" width="30.4" height="24.87" fill-opacity=".85"/><rect class="p" x="465" y="688.13" width="30.4" height="24.87" fill-opacity=".75"/><rect class="p" x="495.33" y="688.13" width="30.4" height="24.87" fill-opacity=".6"/><rect class="p" x="525.67" y="688.13" width="30.33" height="24.87" fill-opacity=".75"/>
</g>
<path stroke="#9c9c9c" stroke-width="1.2" fill="none" d="M374,340V713M404.33,340V713M434.67,340V713M465,340V713M495.33,340V713M525.67,340V713M556,340V713M374,340H556M374,364.87H556M374,389.73H556M374,414.6H556M374,439.47H556M374,464.33H556M374,489.2H556M374,514.07H556M374,538.93H556M374,563.8H556M374,588.67H556M374,613.53H556M374,638.4H556M374,663.27H556M374,688.13H556M374,713H556"/>
<rect x="558.5" y="341" width="13.5" height="196.5" fill="#e0558f" stroke="#b8316c" stroke-width="1"/>
<rect x="558.5" y="541" width="13.5" height="171.5" fill="#78bccb" stroke="#4b93a3" stroke-width="1"/>
<g class="it">
<text x="578" y="357.4">Lhx2</text><text x="578" y="382.3">Nfix</text><text x="578" y="407.2">Nfia</text><text x="578" y="432">Nfic</text><text x="578" y="456.9">Sox2</text><text x="578" y="481.8">Sox8</text><text x="578" y="506.6">Sox9</text><text x="578" y="531.5">Sox10</text><text x="578" y="556.4">Neurog1</text><text x="578" y="581.2">Neurog2</text><text x="578" y="606.1">Neurod2</text><text x="578" y="631">Mef2c</text><text x="578" y="655.8">Mef2d</text><text x="578" y="680.7">Eomes</text><text x="578" y="705.6">Tbr1</text>
</g>
<rect x="632" y="340" width="7" height="96" fill="url(#gD)"/>
<g class="tk">
<text x="641.5" y="361">0.5</text><text x="641.5" y="390">0</text><text x="641" y="417">−0.5</text>
</g>
<g class="tk" text-anchor="middle">
<text x="389" y="733">1</text><text x="419.5" y="733">2</text><text x="450" y="733">3</text><text x="480" y="733">1</text><text x="510.5" y="733">2</text><text x="541" y="733">3</text>
</g>
<g stroke="#333" stroke-width="1.3"><line x1="379" y1="740" x2="460" y2="740"/><line x1="470" y1="740" x2="551" y2="740"/></g>
<g class="tk" text-anchor="middle"><text x="420" y="762">CTRL E17.5</text><text x="510" y="762">NICD E17.5</text></g>
</svg>
</body></html>
